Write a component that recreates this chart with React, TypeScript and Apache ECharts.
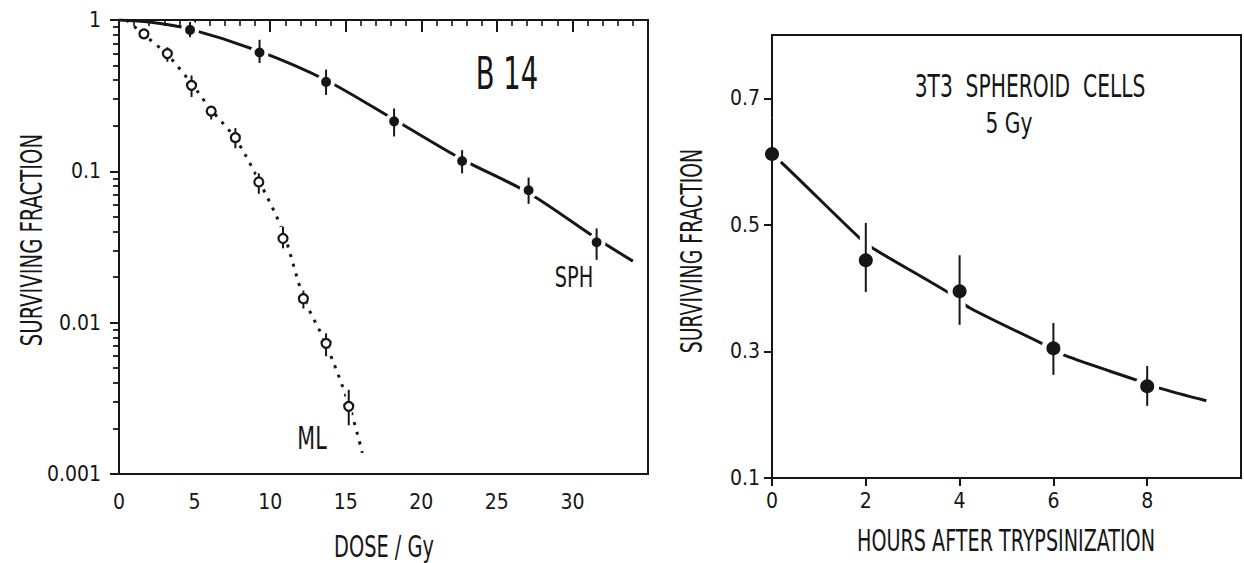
import React, { useEffect, useRef } from "react";
import * as echarts from "echarts";

const FONT = '"Liberation Sans Narrow", "DejaVu Sans Condensed", "Roboto", sans-serif';
const INK = "#161616";

// ---------- Left panel (B 14) ----------
const sphDose = [4.7, 9.3, 13.7, 18.2, 22.7, 27.1, 31.6];
const sphSurv = [0.86, 0.61, 0.39, 0.214, 0.117, 0.075, 0.034];
const sphLow = [0.77, 0.52, 0.32, 0.17, 0.097, 0.061, 0.026];
const sphHigh = [0.97, 0.74, 0.47, 0.26, 0.138, 0.091, 0.042];
const sphFitDose = [0, 2, 4.7, 9.3, 13.7, 18.2, 22.7, 27.1, 31.6, 34];
const sphFitSurv = [1, 0.97, 0.87, 0.62, 0.4, 0.22, 0.12, 0.072, 0.036, 0.0255];

const mlDose = [1.65, 3.2, 4.8, 6.1, 7.7, 9.25, 10.85, 12.2, 13.7, 15.2];
const mlSurv = [0.81, 0.6, 0.37, 0.25, 0.167, 0.085, 0.036, 0.0144, 0.0073, 0.0028];
const mlLow = [0.75, 0.53, 0.31, 0.22, 0.142, 0.071, 0.031, 0.0124, 0.006, 0.0021];
const mlHigh = [0.87, 0.66, 0.43, 0.27, 0.193, 0.097, 0.043, 0.0163, 0.0085, 0.0036];
const mlFitDose = [0.5, 1.65, 3.2, 4.8, 6.1, 7.7, 9.25, 10.85, 12.2, 13.7, 15.2, 16.1];
const mlFitSurv = [1, 0.8, 0.59, 0.38, 0.255, 0.165, 0.087, 0.04, 0.0148, 0.0072, 0.0029, 0.00138];

const logMinorTicks = [
  0.002, 0.003, 0.004, 0.005, 0.006, 0.007, 0.008, 0.009,
  0.02, 0.03, 0.04, 0.05, 0.06, 0.07, 0.08, 0.09,
  0.2, 0.3, 0.4, 0.5, 0.6, 0.7, 0.8, 0.9,
];
const leftYLabels: Record<string, string> = { "0.001": "0.001", "0.01": "0.01", "0.1": "0.1", "1": "1" };

// ---------- Right panel (3T3 spheroid cells) ----------
const hours = [0, 2, 4, 6, 8];
const survHours = [0.612, 0.444, 0.395, 0.305, 0.245];
const survLow = [0.56, 0.394, 0.342, 0.263, 0.214];
const survHigh = [0.67, 0.503, 0.452, 0.345, 0.277];
const fitHours = [0, 0.21, 1.87, 2.15, 3.85, 4.21, 5.74, 6.23, 7.76, 8.26, 9.26];
const fitSurv = [0.61, 0.598, 0.479, 0.463, 0.389, 0.369, 0.313, 0.294, 0.255, 0.242, 0.222];
const rightYTicks = [0.1, 0.3, 0.5, 0.7];

const zip = (a: number[], b: number[]) => a.map((v, i) => [v, b[i]]);
const zip3 = (a: number[], b: number[], c: number[]) => a.map((v, i) => [v, b[i], c[i]]);

const errorBarRender = (lw: number, color: string) => (params: any, api: any) => {
  const x = api.value(0);
  const p1 = api.coord([x, api.value(1)]);
  const p2 = api.coord([x, api.value(2)]);
  return {
    type: "line",
    shape: { x1: p1[0], y1: p1[1], x2: p2[0], y2: p2[1] },
    style: { stroke: color, lineWidth: lw },
  };
};

const errorSeries = (name: string, xi: number, data: number[][], halo: number, zBar: number) => [
  {
    name: name + " halo", type: "custom", xAxisIndex: xi, yAxisIndex: xi, z: 2,
    data, encode: { x: 0, y: [1, 2] }, renderItem: errorBarRender(halo, "#ffffff"),
  },
  {
    name, type: "custom", xAxisIndex: xi, yAxisIndex: xi, z: zBar,
    data, encode: { x: 0, y: [1, 2] }, renderItem: errorBarRender(2, INK),
  },
];

const axisText = { fontFamily: FONT, fontSize: 21, color: INK };

const label = (text: string, x: number, y: number, size: number, sy: number, rot = 0) => ({
  type: "text",
  x,
  y,
  rotation: rot,
  scaleY: sy,
  style: { text, font: `${size}px ${FONT}`, fill: INK, textAlign: "center", textVerticalAlign: "middle" },
});

const labels = [
  // axis titles
  label("DOSE / Gy", 384, 546, 21.5, 1.42),
  label("HOURS AFTER TRYPSINIZATION", 1006, 540, 21.3, 1.45),
  label("SURVIVING FRACTION", 31, 240, 21.8, 1.42, Math.PI / 2),
  label("SURVIVING FRACTION", 692, 251, 21, 1.45, Math.PI / 2),
  // annotations
  label("B 14", 507, 74, 30.5, 1.45),
  label("SPH", 574, 277, 21.5, 1.3),
  label("ML", 312, 438, 23, 1.35),
  label("3T3  SPHEROID  CELLS", 1030, 86, 22.5, 1.4),
  label("5 Gy", 1009, 123, 22.5, 1.25),
];

export default function App() {
  const ref = useRef<HTMLDivElement>(null);
  useEffect(() => {
    if (!ref.current) return;
    const chart = echarts.init(ref.current, undefined, { renderer: "svg" });
    const option: any = {
      animation: false,
      backgroundColor: "#ffffff",
      textStyle: { fontFamily: FONT },
      grid: [
        { left: 119, top: 20, width: 529, height: 454, show: true, borderColor: INK, borderWidth: 2, backgroundColor: "transparent" },
        { left: 772, top: 35, width: 469, height: 443, show: true, borderColor: INK, borderWidth: 2, backgroundColor: "transparent" },
      ],
      xAxis: [
        {
          type: "value", gridIndex: 0, min: 0, max: 35, interval: 5,
          axisLine: { lineStyle: { color: INK, width: 2 } },
          axisTick: { length: 12, lineStyle: { color: INK, width: 2 } },
          minorTick: { show: true, splitNumber: 5, length: 6, lineStyle: { color: INK, width: 1.6 } },
          axisLabel: { ...axisText, margin: 17, showMaxLabel: false },
          splitLine: { show: false },
        },
        {
          type: "value", gridIndex: 1, min: 0, max: 10, interval: 2,
          axisLine: { lineStyle: { color: INK, width: 2 } },
          axisTick: { length: 8, lineStyle: { color: INK, width: 2 } },
          axisLabel: { ...axisText, margin: 12, showMaxLabel: false },
          splitLine: { show: false },
        },
      ],
      yAxis: [
        {
          type: "log", logBase: 10, gridIndex: 0, min: 0.001, max: 1,
          axisLine: { lineStyle: { color: INK, width: 2 } },
          axisTick: { length: 9, lineStyle: { color: INK, width: 2 } },
          axisLabel: {
            ...axisText, margin: 18,
            formatter: (v: number) => leftYLabels[String(Number(v.toPrecision(1)))] ?? "",
          },
          splitLine: { show: false },
        },
        {
          type: "value", gridIndex: 1, min: 0.1, max: 0.8,
          axisLine: { lineStyle: { color: INK, width: 2 } },
          axisTick: { length: 8, lineStyle: { color: INK, width: 2 }, customValues: rightYTicks },
          axisLabel: { ...axisText, margin: 12, customValues: rightYTicks, formatter: (v: number) => v.toFixed(1) },
          splitLine: { show: false },
        },
        {
          // companion axis in log10 units that carries the 2..9 minor ticks of the log axis
          type: "value", gridIndex: 0, position: "left", min: -3, max: 0,
          axisLine: { show: false },
          axisLabel: { show: false },
          axisTick: {
            show: true, length: 6, lineStyle: { color: INK, width: 1.8 },
            customValues: logMinorTicks.map((v) => Math.log10(v)),
          },
          splitLine: { show: false },
        },
      ],
      series: [
        {
          name: "SPH fit", type: "line", xAxisIndex: 0, yAxisIndex: 0, z: 1,
          data: zip(sphFitDose, sphFitSurv), showSymbol: false, smooth: 0.3,
          lineStyle: { color: INK, width: 3 },
        },
        {
          name: "ML fit", type: "line", xAxisIndex: 0, yAxisIndex: 0, z: 1,
          data: zip(mlFitDose, mlFitSurv), showSymbol: false, smooth: 0.3,
          lineStyle: { color: INK, width: 3, type: [3, 7] },
        },
        ...errorSeries("ML error", 0, zip3(mlDose, mlLow, mlHigh), 6, 2.5),
        {
          name: "ML", type: "scatter", xAxisIndex: 0, yAxisIndex: 0, z: 3,
          data: zip(mlDose, mlSurv), symbol: "circle", symbolSize: 9,
          itemStyle: { color: "#ffffff", borderColor: INK, borderWidth: 2.2, opacity: 1 },
        },
        {
          name: "SPH", type: "scatter", xAxisIndex: 0, yAxisIndex: 0, z: 3,
          data: zip(sphDose, sphSurv), symbol: "circle", symbolSize: 14,
          itemStyle: { color: INK, borderColor: "#ffffff", borderWidth: 4, opacity: 1 },
        },
        ...errorSeries("SPH error", 0, zip3(sphDose, sphLow, sphHigh), 9, 4),
        {
          name: "3T3 fit", type: "line", xAxisIndex: 1, yAxisIndex: 1, z: 1,
          data: zip(fitHours, fitSurv), showSymbol: false, smooth: 0.3,
          lineStyle: { color: INK, width: 3 },
        },
        {
          name: "3T3", type: "scatter", xAxisIndex: 1, yAxisIndex: 1, z: 3,
          data: zip(hours, survHours), symbol: "circle", symbolSize: 19,
          itemStyle: { color: INK, borderColor: "#ffffff", borderWidth: 5, opacity: 1 },
        },
        ...errorSeries("3T3 error", 1, zip3(hours, survLow, survHigh), 12, 4),
      ],
      graphic: labels,
    };
    chart.setOption(option);
    return () => chart.dispose();
  }, []);
  return <div ref={ref} style={{ position: "fixed", left: 0, top: 0, width: 1244, height: 563, background: "#fff" }} />;
}
